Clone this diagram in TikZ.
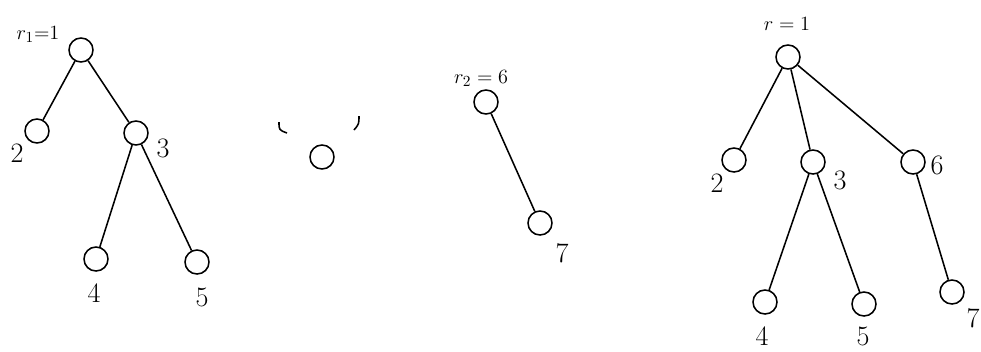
\documentclass[tikz,border=0pt]{standalone}
\usepackage{tikz}
\usetikzlibrary{positioning}

\tikzset{
  vert/.style={draw, circle, line width=1.1pt, minimum size=0.6cm, inner sep=0pt},
  lbl/.style={font=\fontsize{20}{22}\selectfont, inner sep=0pt},
  rootlbl/.style={font=\fontsize{15}{17}\selectfont, inner sep=0pt}
}

\begin{document}
\begin{tikzpicture}[x=0.025cm, y=-0.025cm, line width=1.1pt]
    \useasboundingbox (0,0) rectangle (981,351);

    % First tree, root r_1 = 1
    \node[vert] (ta1) at (81,50) {};
    \node[vert] (ta2) at (37,131) {};
    \node[vert] (ta3) at (136,133) {};
    \node[vert] (ta4) at (96,259) {};
    \node[vert] (ta5) at (197,262) {};
    \node[rootlbl] (ra) at (38,34) {$r_1{=}1$};
    \node[lbl] (la2) at (17,153) {2};
    \node[lbl] (la3) at (163,148) {3};
    \node[lbl] (la4) at (94,293) {4};
    \node[lbl] (la5) at (202,297) {5};
    \draw (ta1) -- (ta2);
    \draw (ta1) -- (ta3);
    \draw (ta3) -- (ta4);
    \draw (ta3) -- (ta5);

    % Lone vertex with two cut marks
    \node[vert] (mid) at (322,157) {};
    \draw (279,122) .. controls (279,130) .. (287,133);
    \draw (359,116) .. controls (359,124) .. (354,130);

    % Second tree, root r_2 = 6
    \node[vert] (tb6) at (486,102) {};
    \node[vert] (tb7) at (540,223) {};
    \node[rootlbl] (rb) at (481,78) {$r_2 = 6$};
    \node[lbl] (lb7) at (562,253) {7};
    \draw (tb6) -- (tb7);

    % Merged tree, root r = 1
    \node[vert] (tc1) at (788,57) {};
    \node[vert] (tc2) at (734,160) {};
    \node[vert] (tc3) at (813,162) {};
    \node[vert] (tc6) at (913,162) {};
    \node[vert] (tc4) at (765,302) {};
    \node[vert] (tc5) at (864,304) {};
    \node[vert] (tc7) at (952,292) {};
    \node[rootlbl] (rc) at (787,24) {$r = 1$};
    \node[lbl] (lc2) at (717,183) {2};
    \node[lbl] (lc3) at (840,180) {3};
    \node[lbl] (lc6) at (937,165) {6};
    \node[lbl] (lc4) at (762,336) {4};
    \node[lbl] (lc5) at (863,336) {5};
    \node[lbl] (lc7) at (973,318) {7};
    \draw (tc1) -- (tc2);
    \draw (tc1) -- (tc3);
    \draw (tc1) -- (tc6);
    \draw (tc3) -- (tc4);
    \draw (tc3) -- (tc5);
    \draw (tc6) -- (tc7);
\end{tikzpicture}
\end{document}
